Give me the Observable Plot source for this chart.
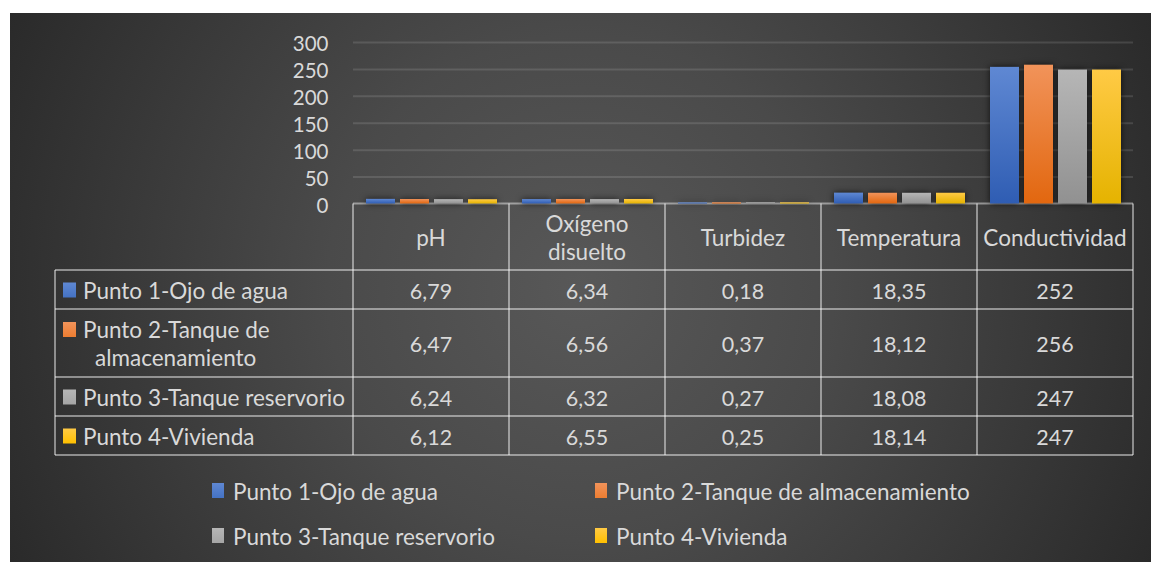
<!DOCTYPE html>
<html>
<head>
<meta charset="utf-8">
<script src="https://cdn.jsdelivr.net/npm/d3@7"></script>
<script src="https://cdn.jsdelivr.net/npm/@observablehq/plot@0.6"></script>
<style>
  html, body { margin: 0; padding: 0; background: #ffffff; }
  #chart {
    position: absolute; left: 10px; top: 13px; width: 1141px; height: 549px;
    background: radial-gradient(circle farthest-corner at 50% 50%, #585858 0%, #4a4a4a 40%, #2a2a2a 100%);
    font-family: Lato, "Open Sans", sans-serif; color: #d9d9d9; overflow: hidden;
  }
  #chart svg { position: absolute; left: 0; top: 0; }
</style>
</head>
<body>
<div id="chart"></div>
<script>
// Parameters and sampling points
const categories = ["pH", "Oxígeno disuelto", "Turbidez", "Temperatura", "Conductividad"];
const headerLines = [["pH"], ["Oxígeno", "disuelto"], ["Turbidez"], ["Temperatura"], ["Conductividad"]];
const series = ["Punto 1-Ojo de agua", "Punto 2-Tanque de almacenamiento", "Punto 3-Tanque reservorio", "Punto 4-Vivienda"];
const seriesLines = [["Punto 1-Ojo de agua"], ["Punto 2-Tanque de", "almacenamiento"], ["Punto 3-Tanque reservorio"], ["Punto 4-Vivienda"]];

// Measured values per point, in category order
const punto1 = [6.79, 6.34, 0.18, 18.35, 252];
const punto2 = [6.47, 6.56, 0.37, 18.12, 256];
const punto3 = [6.24, 6.32, 0.27, 18.08, 247];
const punto4 = [6.12, 6.55, 0.25, 18.14, 247];

const yTicks = [0, 50, 100, 150, 200, 250, 300];

// Series colours: swatch, gradient top, gradient bottom
const swatchColors = ["#4472c4", "#ed7d31", "#a5a5a5", "#ffc000"];
const topColors = ["#5f88d3", "#f1935a", "#b6b6b6", "#ffca45"];
const bottomColors = ["#2f5db3", "#e2670f", "#919191", "#e5b300"];

const values = [punto1, punto2, punto3, punto4];
const rows = series.flatMap((s, i) =>
  categories.map((c, j) => ({ series: s, category: c, value: values[i][j] })));

const fmt = v => String(v).replace(".", ",");
const FONT = "Lato, 'Open Sans', sans-serif";
const TEXT = "#d9d9d9";
const LINE = "rgba(255,255,255,0.45)";

const W = 1141, H = 549;
const plot = Plot.plot({
  width: W,
  height: H,
  marginLeft: 342,
  marginRight: 17,
  marginTop: 29,
  marginBottom: 358.5,
  style: { background: "transparent", fontFamily: FONT, fontSize: "20.5px", color: TEXT, overflow: "visible" },
  fx: { domain: categories, padding: 0, axis: null, label: null },
  x: { domain: series, paddingInner: 0.15, paddingOuter: 0.36, axis: null },
  y: { domain: [0, 300], ticks: yTicks, tickSize: 0, tickPadding: 25, label: null },
  color: { domain: series, range: series.map((s, i) => `url(#bar-fill-${i})`) },
  marks: [
    Plot.ruleY(yTicks.filter(t => t > 0), { stroke: "#ffffff", strokeOpacity: 0.12, strokeWidth: 2 }),
    Plot.barY(rows, { fx: "category", x: "series", y: "value", fill: "series", insetTop: -1 })
  ]
});
document.getElementById("chart").appendChild(plot);
const svg = d3.select(plot);

// Nudge the y tick labels down a little, so they sit just under their gridlines
svg.selectAll('g[aria-label="y-axis tick label"]').each(function () {
  const tr = this.getAttribute("transform") || "";
  this.setAttribute("transform", (tr + " translate(0,2)").trim());
});

// Vertical gradients for the bars and swatches
const defs = svg.insert("defs", ":first-child");
series.forEach((s, i) => {
  const g = defs.append("linearGradient").attr("id", "bar-fill-" + i)
    .attr("x1", 0).attr("y1", 0).attr("x2", 0).attr("y2", 1);
  g.append("stop").attr("offset", "0%").attr("stop-color", topColors[i]);
  g.append("stop").attr("offset", "100%").attr("stop-color", bottomColors[i]);
  const sw = defs.append("linearGradient").attr("id", "sw-fill-" + i)
    .attr("x1", 0).attr("y1", 0).attr("x2", 0).attr("y2", 1);
  sw.append("stop").attr("offset", "0%").attr("stop-color", topColors[i]);
  sw.append("stop").attr("offset", "100%").attr("stop-color", swatchColors[i]);
});

// Soft shadow round the bars
svg.selectAll('g[aria-label="bar"]')
  .style("filter", "drop-shadow(0px 0px 3px rgba(0,0,0,0.7))");

// Data table under the plot, aligned with the category bands
const fx = plot.scale("fx");
const yScale = plot.scale("y");
const bw = fx.bandwidth;
const x0 = fx.apply(categories[0]);
const xEnd = fx.apply(categories[categories.length - 1]) + bw;
const xLeft = 45;
const y0 = yScale.apply(0);
const rowHeights = [66.5, 39, 68, 39, 39];
const rowEdges = rowHeights.reduce((acc, h) => (acc.push(acc[acc.length - 1] + h), acc), [y0]);
const yBottom = rowEdges[rowEdges.length - 1];

const table = svg.insert("g", "defs + *").attr("aria-label", "data table");
const lines = table.append("g").attr("stroke", LINE).attr("stroke-width", 2).attr("fill", "none");
// axis / top of the table
lines.append("line").attr("x1", x0).attr("x2", xEnd).attr("y1", y0).attr("y2", y0);
// row separators
rowEdges.slice(1).forEach(y =>
  lines.append("line").attr("x1", xLeft).attr("x2", xEnd).attr("y1", y).attr("y2", y));
// column separators
lines.append("line").attr("x1", xLeft).attr("x2", xLeft).attr("y1", rowEdges[1]).attr("y2", yBottom);
categories.forEach(c =>
  lines.append("line").attr("x1", fx.apply(c)).attr("x2", fx.apply(c)).attr("y1", y0).attr("y2", yBottom));
lines.append("line").attr("x1", xEnd).attr("x2", xEnd).attr("y1", y0).attr("y2", yBottom);

const TDY = "0.42em";
const txt = table.append("g").attr("fill", TEXT).attr("font-family", FONT);
// header row
categories.forEach((c, j) => {
  const cy = (rowEdges[0] + rowEdges[1]) / 2;
  const ls = headerLines[j];
  const t = txt.append("text").attr("text-anchor", "middle").attr("font-size", 22.5);
  ls.forEach((l, k) => t.append("tspan").attr("x", fx.apply(c) + bw / 2)
    .attr("y", cy + (k - (ls.length - 1) / 2) * 28).attr("dy", TDY).text(l));
});
// value rows
series.forEach((s, i) => {
  const cy = (rowEdges[i + 1] + rowEdges[i + 2]) / 2;
  const ls = seriesLines[i];
  txt.append("rect").attr("x", xLeft + 8).attr("width", 13).attr("height", 15)
    .attr("y", cy - (ls.length - 1) * 14 - 7).attr("fill", `url(#sw-fill-${i})`);
  const t = txt.append("text").attr("text-anchor", "start").attr("font-size", 22.5);
  ls.forEach((l, k) => t.append("tspan").attr("x", xLeft + 28 + k * 12)
    .attr("y", cy + (k - (ls.length - 1) / 2) * 28).attr("dy", TDY).text(l));
  categories.forEach((c, j) => {
    txt.append("text").attr("text-anchor", "middle").attr("font-size", 21.5)
      .attr("x", fx.apply(c) + bw / 2).attr("y", cy).attr("dy", TDY).text(fmt(values[i][j]));
  });
});

// Legend below the table
const legendCols = [202, 585];
const legendRows = [478, 523];
const legend = svg.append("g").attr("aria-label", "legend").attr("fill", TEXT)
  .attr("font-family", FONT).attr("font-size", 22.5).attr("text-anchor", "start");
series.forEach((s, i) => {
  const lx = legendCols[i % 2], ly = legendRows[Math.floor(i / 2)];
  legend.append("rect").attr("x", lx).attr("y", ly - 8).attr("width", 12).attr("height", 15)
    .attr("fill", `url(#sw-fill-${i})`);
  legend.append("text").attr("x", lx + 21).attr("y", ly).attr("dy", "0.38em").text(s);
});
</script>
</body>
</html>
